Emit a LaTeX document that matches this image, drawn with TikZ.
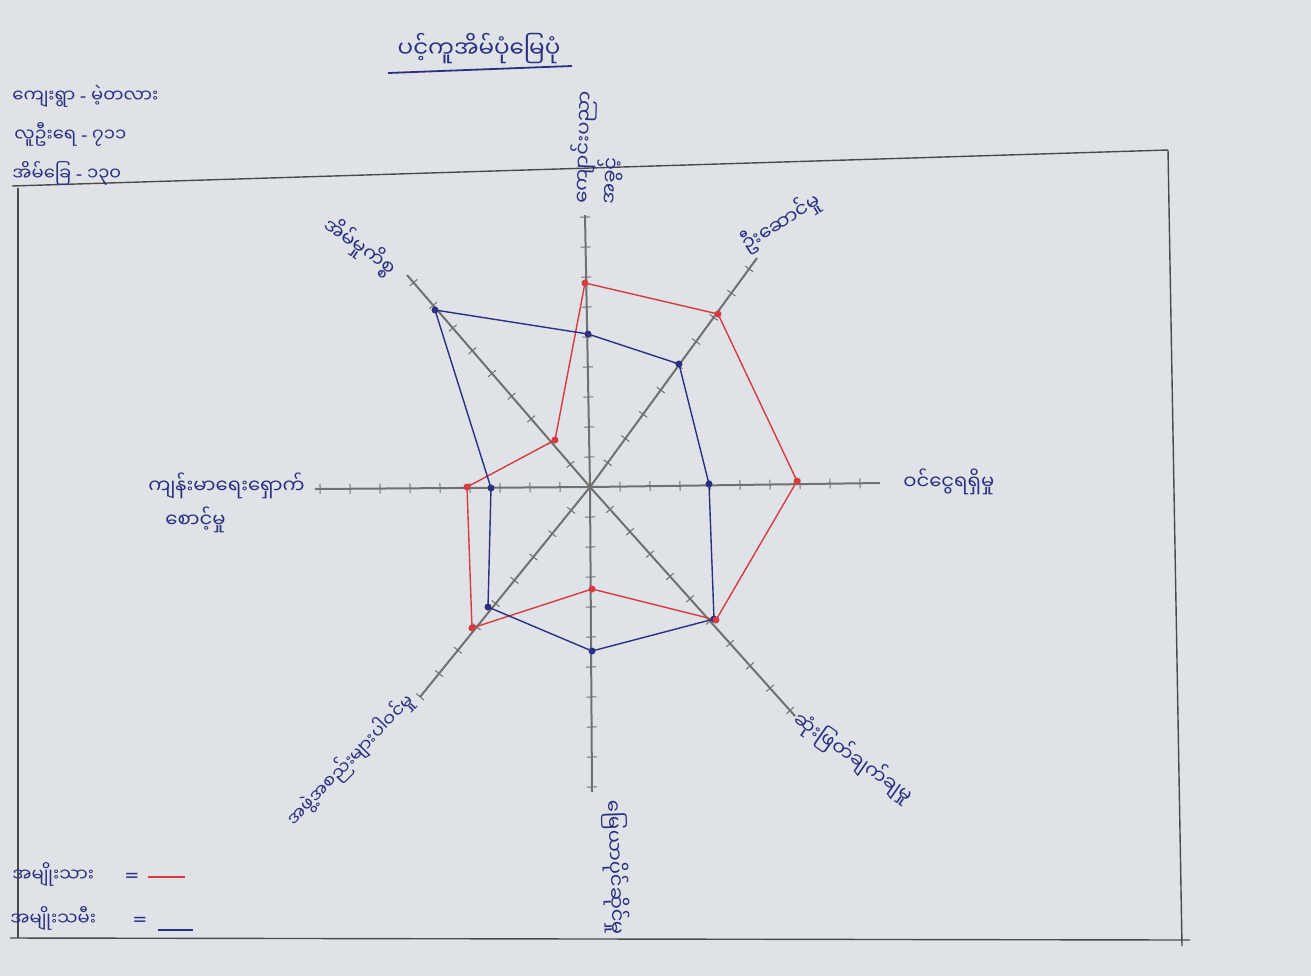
\documentclass[tikz,border=0pt]{standalone}
\usepackage{fontspec}
\newfontfamily\mm[Script=Myanmar]{Noto Sans Myanmar UI}
\newfontfamily\lat{DejaVu Sans}
\usetikzlibrary{calc}
\definecolor{ink}{HTML}{2B3080}
\definecolor{redink}{HTML}{D93A3F}
\definecolor{paper}{HTML}{DFE3E8}
\definecolor{axisgray}{HTML}{707070}
\definecolor{framegray}{HTML}{4A4A4A}
\begin{document}
\begin{tikzpicture}[x=0.5pt,y=-0.5pt,
  lab/.style={text=ink,font=\mm\fontsize{9}{12}\selectfont,inner sep=0pt},
  alab/.style={text=ink,font=\mm\fontsize{9.8}{12}\selectfont,inner sep=0pt},
  axisline/.style={draw=axisgray,line width=1pt},
  tickline/.style={draw=axisgray,line width=0.5pt},
  redpoly/.style={draw=redink,line width=0.7pt,line join=round},
  bluepoly/.style={draw=ink,line width=0.7pt,line join=round},
  framel/.style={draw=framegray,line width=0.7pt},
  reddot/.style={fill=redink},
  bluedot/.style={fill=ink}]
\useasboundingbox (0,0) rectangle (1311,976);
\fill[paper] (0,0) rectangle (1311,976);
% frame
\draw[framel] (12,186) -- (1168,150);
\draw[framel] (1168,150) -- (1182,946);
\draw[framel] (18,188) -- (18,938);
\draw[framel] (10,938) -- (1190,940);
% title and header
\node[lab,anchor=south,font=\mm\fontsize{11.5}{13}\selectfont] (title) at (479,64) {ပင့်ကူအိမ်ပုံမြေပုံ};
\draw[ink,line width=0.9pt] (388,73) -- (572,66);
\node[lab,anchor=west] (h1) at (12,96) {ကျေးရွာ {\lat -} မဲ့တလား};
\node[lab,anchor=west] (h2) at (14,134) {လူဦးရေ {\lat -} ၇၁၁};
\node[lab,anchor=west] (h3) at (12,173) {အိမ်ခြေ {\lat -} ၁၃၀};
% axes
\coordinate (C) at (590,487);
\coordinate (eN) at (585,215);
\coordinate (eNE) at (757,258);
\coordinate (eE) at (880,483);
\coordinate (eSE) at (795,716);
\coordinate (eS) at (592,792);
\coordinate (eSW) at (420,697);
\coordinate (eW) at (315,489);
\coordinate (eNW) at (407,275);
\foreach \e in {eN,eNE,eE,eSE,eS,eSW,eW,eNW}{\draw[axisline] (C) -- (\e);}
\foreach \e/\n in {eN/9,eNE/9,eE/9,eSE/10,eS/10,eSW/9,eW/9,eNW/9}{
  \foreach \k in {1,...,\n}{
    \path ($(C)!{\k*15pt}!(\e)$) coordinate (t);
    \draw[tickline] ($(t)!2.5pt!90:(\e)$) -- ($(t)!2.5pt!-90:(\e)$);
  }
}
% red polygon (men)
\coordinate (r1) at (585,283);
\coordinate (r2) at (718,314);
\coordinate (r3) at (797,481);
\coordinate (r4) at (716,620);
\coordinate (r5) at (592,589);
\coordinate (r6) at (472,628);
\coordinate (r7) at (467,487);
\coordinate (r8) at (555,440);
\draw[redpoly] (r1) -- (r2) -- (r3) -- (r4) -- (r5) -- (r6) -- (r7) -- (r8) -- cycle;
% blue polygon (women)
\coordinate (b1) at (588,334);
\coordinate (b2) at (679,364);
\coordinate (b3) at (709,484);
\coordinate (b4) at (714,619);
\coordinate (b5) at (592,651);
\coordinate (b6) at (488,607);
\coordinate (b7) at (491,488);
\coordinate (b8) at (435,310);
\draw[bluepoly] (b1) -- (b2) -- (b3) -- (b4) -- (b5) -- (b6) -- (b7) -- (b8) -- cycle;
\foreach \p in {b1,b2,b3,b4,b5,b6,b7,b8}{\fill[bluedot] (\p) circle (3.5);}
\foreach \p in {r1,r2,r3,r4,r5,r6,r7,r8}{\fill[reddot] (\p) circle (3.5);}
% axis labels
\node[alab,rotate=88,anchor=north west,align=left] (lN) at (568,203) {ကျောင်းပညာ\\ အခွင့်};
\node[alab,rotate=32,anchor=south west] (lNE) at (750,258) {ဦးဆောင်မှု};
\node[alab,anchor=west] (lE) at (903,482) {ဝင်ငွေရရှိမှု};
\node[alab,rotate=-35,anchor=north west] (lSE) at (803,706) {ဆုံးဖြတ်ချက်ချမှု};
\node[alab,rotate=-88,anchor=south west] (lS) at (600,800) {မြေယာပိုင်ဆိုင်မှု};
\node[lab,rotate=46,anchor=south east] (lSW) at (420,706) {အဖွဲ့အစည်းများပါဝင်မှု};
\node[alab,anchor=west] (lW1) at (148,486) {ကျန်းမာရေးရှောက်};
\node[alab,anchor=west] (lW2) at (165,520) {စောင့်မှု};
\node[alab,rotate=-35,anchor=south east] (lNW) at (386,282) {အိမ်မှုကိစ္စ};
% legend
\node[lab,anchor=west] (leg1) at (12,874) {အမျိုးသား};
\node[text=ink,font=\lat\small,inner sep=0pt,anchor=west] (eq1) at (124,877) {=};
\coordinate (k1a) at (148,877); \coordinate (k1b) at (185,877);
\draw[redink,line width=0.7pt] (k1a) -- (k1b);
\node[lab,anchor=west] (leg2) at (10,918) {အမျိုးသမီး};
\node[text=ink,font=\lat\small,inner sep=0pt,anchor=west] (eq2) at (132,921) {=};
\coordinate (k2a) at (158,930); \coordinate (k2b) at (193,930);
\draw[ink,line width=0.7pt] (k2a) -- (k2b);
\end{tikzpicture}
\end{document}
